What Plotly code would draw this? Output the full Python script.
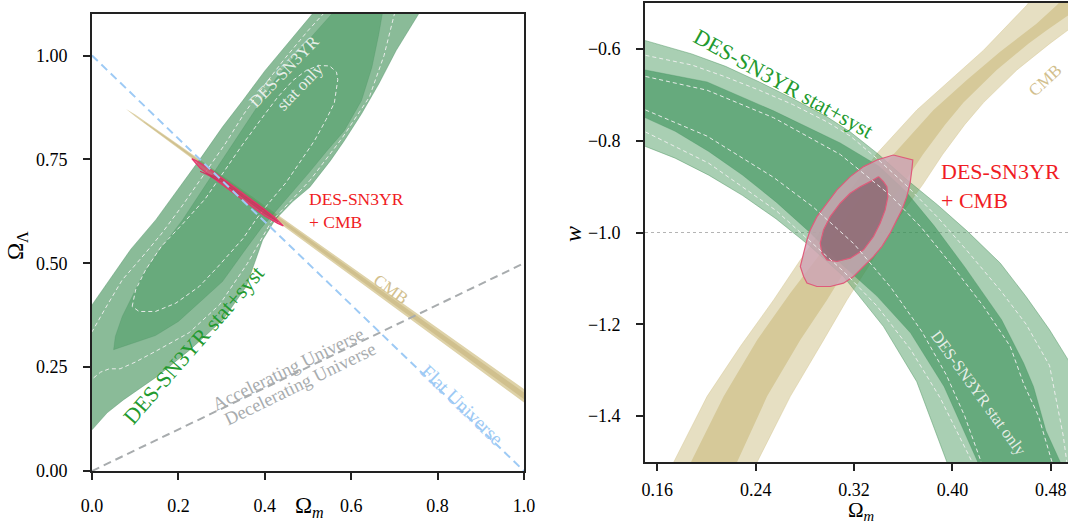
import plotly.graph_objects as go

FONT = "Liberation Serif"

# ================= LEFT PANEL: Omega_m vs Omega_Lambda =================
# CMB band (outer and inner core)
LCMB_up_x = [0.0787, 0.1, 0.2, 0.4, 0.6, 0.8, 1.0, 1.03]
LCMB_up_y = [0.8715, 0.858, 0.7861, 0.6392, 0.4918, 0.3444, 0.197, 0.175]
LCMB_lo_x = [1.03, 1.0, 0.8, 0.6, 0.4, 0.2, 0.1]
LCMB_lo_y = [0.142, 0.165, 0.3174, 0.4698, 0.6222, 0.7751, 0.853]
LCMBi_up_x = [0.12, 0.2, 0.4, 0.6, 0.8, 1.0, 1.03]
LCMBi_up_y = [0.8415, 0.7834, 0.635, 0.4863, 0.3377, 0.189, 0.1668]
LCMBi_lo_x = [1.03, 1.0, 0.8, 0.6, 0.4, 0.2, 0.12]
LCMBi_lo_y = [0.1502, 0.173, 0.3241, 0.4753, 0.6264, 0.7778, 0.8395]

# DES-SN3YR stat+syst 2 sigma (light green)
LG2_lo_x = [-0.02, 0, 0.035, 0.0725, 0.15, 0.227, 0.303, 0.357, 0.395, 0.424, 0.464, 0.504, 0.552, 0.584, 0.624, 0.664, 0.704, 0.736, 0.756, 0.775]
LG2_lo_y = [0.08, 0.099, 0.14, 0.171, 0.227, 0.292, 0.364, 0.444, 0.556, 0.605, 0.648, 0.683, 0.747, 0.795, 0.86, 0.932, 1.012, 1.068, 1.1, 1.13]
LG2_up_x = [0.53, 0.51, 0.49, 0.45, 0.40, 0.35, 0.302, 0.255, 0.202, 0.148, 0.09, 0.064, 0.03, 0, -0.02]
LG2_up_y = [1.13, 1.1, 1.075, 1.025, 0.963, 0.893, 0.828, 0.758, 0.683, 0.605, 0.534, 0.495, 0.445, 0.398, 0.37]

# DES-SN3YR stat+syst 1 sigma (dark green)
LG1_a_x = [0.05, 0.054, 0.07, 0.093, 0.116, 0.152, 0.21, 0.264, 0.318, 0.372, 0.426, 0.488, 0.549, 0.555, 0.565]
LG1_a_y = [0.292, 0.324, 0.372, 0.42, 0.468, 0.525, 0.605, 0.69, 0.775, 0.86, 0.945, 1.022, 1.093, 1.1, 1.13]
LG1_b_x = [0.68, 0.672, 0.664, 0.648, 0.624, 0.584, 0.544, 0.504, 0.464, 0.424, 0.392, 0.36, 0.333, 0.302, 0.248, 0.2, 0.147, 0.1, 0.07]
LG1_b_y = [1.13, 1.1, 1.052, 0.972, 0.892, 0.819, 0.771, 0.72, 0.672, 0.625, 0.585, 0.54, 0.5, 0.456, 0.405, 0.36, 0.326, 0.31, 0.298]

# stat-only contours (white dashed)
LD2a_x = [-0.01, 0, 0.02, 0.04, 0.065, 0.1, 0.147, 0.225, 0.295, 0.36, 0.415, 0.505, 0.578, 0.642, 0.676, 0.70, 0.71]
LD2a_y = [0.215, 0.221, 0.238, 0.246, 0.246, 0.262, 0.288, 0.333, 0.40, 0.50, 0.60, 0.70, 0.80, 0.90, 1.0, 1.1, 1.13]
LD2b_x = [-0.01, 0, 0.03, 0.07, 0.12, 0.16, 0.21, 0.26, 0.31, 0.352, 0.40, 0.448, 0.50, 0.535, 0.56]
LD2b_y = [0.32, 0.335, 0.39, 0.46, 0.52, 0.57, 0.64, 0.715, 0.79, 0.86, 0.93, 0.995, 1.06, 1.1, 1.13]
LD1_x = [0.093, 0.101, 0.124, 0.16, 0.21, 0.262, 0.305, 0.348, 0.39, 0.43, 0.465, 0.497, 0.526, 0.55, 0.566, 0.569, 0.561, 0.542, 0.515, 0.485, 0.449, 0.41, 0.38, 0.35, 0.32, 0.29, 0.248, 0.194, 0.147, 0.109, 0.093]
LD1_y = [0.396, 0.436, 0.484, 0.54, 0.595, 0.655, 0.72, 0.785, 0.845, 0.9, 0.94, 0.965, 0.976, 0.975, 0.96, 0.942, 0.886, 0.846, 0.795, 0.75, 0.694, 0.646, 0.606, 0.56, 0.525, 0.49, 0.444, 0.404, 0.384, 0.384, 0.396]

# DES-SN3YR + CMB (red)
LR2_x = [0.231, 0.245, 0.27, 0.30, 0.34, 0.38, 0.42, 0.443, 0.43, 0.40, 0.36, 0.32, 0.28, 0.25, 0.231]
LR2_y = [0.752, 0.745, 0.729, 0.707, 0.676, 0.645, 0.613, 0.590, 0.596, 0.614, 0.644, 0.675, 0.706, 0.729, 0.752]
LR1_x = [0.25, 0.30, 0.35, 0.40, 0.43, 0.40, 0.35, 0.30, 0.25]
LR1_y = [0.7212, 0.7033, 0.664, 0.627, 0.600, 0.619, 0.658, 0.6953, 0.7212]

# reference lines
LFlat_x = [0, 1]
LFlat_y = [1, 0]
LAcc_x = [0, 1]
LAcc_y = [0, 0.5]

# ================= RIGHT PANEL: Omega_m vs w =================
RCMB_ol_x = [0.155, 0.1734, 0.2005, 0.2276, 0.2546, 0.2763, 0.30, 0.3386, 0.3711, 0.398, 0.4253, 0.4604, 0.47]
RCMB_ol_y = [-1.6, -1.50, -1.357, -1.248, -1.147, -1.06, -0.972, -0.828, -0.733, -0.668, -0.603, -0.505, -0.47]
RCMB_or_x = [0.54, 0.52, 0.494, 0.4794, 0.4524, 0.4253, 0.41, 0.392, 0.376, 0.357, 0.335, 0.3142, 0.2953, 0.2682, 0.2412, 0.225]
RCMB_or_y = [-0.47, -0.51, -0.559, -0.588, -0.646, -0.717, -0.765, -0.83, -0.895, -0.965, -1.06, -1.147, -1.234, -1.357, -1.5, -1.6]
RCMB_il_x = [0.17, 0.1883, 0.214, 0.2412, 0.2682, 0.30, 0.325, 0.352, 0.3846, 0.4117, 0.4388, 0.4686, 0.4848, 0.49]
RCMB_il_y = [-1.6, -1.495, -1.357, -1.234, -1.132, -1.02, -0.925, -0.83, -0.7332, -0.668, -0.606, -0.5446, -0.5047, -0.49]
RCMB_ir_x = [0.523, 0.503, 0.477, 0.462, 0.436, 0.409, 0.394, 0.376, 0.36, 0.34, 0.318, 0.298, 0.2763, 0.2493, 0.2249, 0.21]
RCMB_ir_y = [-0.47, -0.51, -0.559, -0.588, -0.646, -0.717, -0.765, -0.83, -0.895, -0.965, -1.06, -1.147, -1.234, -1.357, -1.5, -1.6]

RG2_up_x = [0.14, 0.1504, 0.188, 0.2155, 0.243, 0.270, 0.298, 0.317, 0.340, 0.362, 0.388, 0.412, 0.439, 0.460, 0.479, 0.494, 0.51, 0.53]
RG2_up_y = [-0.575, -0.582, -0.611, -0.638, -0.672, -0.708, -0.748, -0.781, -0.830, -0.883, -0.940, -0.997, -1.067, -1.140, -1.212, -1.277, -1.36, -1.6]
RG2_lo_x = [0.405, 0.3955, 0.371, 0.344, 0.3112, 0.2839, 0.2565, 0.2292, 0.2018, 0.1745, 0.1504, 0.14]
RG2_lo_y = [-1.6, -1.5, -1.325, -1.205, -1.095, -1.029, -0.970, -0.919, -0.875, -0.838, -0.8125, -0.805]
RG1_up_x = [0.14, 0.1504, 0.2005, 0.2546, 0.3088, 0.34, 0.362, 0.385, 0.41, 0.44, 0.458, 0.466, 0.476, 0.4877, 0.49]
RG1_up_y = [-0.64, -0.646, -0.672, -0.735, -0.805, -0.855, -0.91, -0.985, -1.075, -1.19, -1.285, -1.336, -1.4315, -1.5, -1.6]
RG1_lo_x = [0.425, 0.4206, 0.3933, 0.366, 0.3386, 0.3112, 0.2839, 0.2565, 0.2292, 0.2018, 0.1745, 0.1504, 0.14]
RG1_lo_y = [-1.6, -1.5, -1.336, -1.219, -1.1385, -1.0725, -0.9993, -0.9333, -0.8747, -0.8234, -0.7795, -0.7502, -0.743]

RDA_x = [0.1504, 0.188, 0.2155, 0.243, 0.27, 0.298, 0.317, 0.34, 0.362, 0.388, 0.412, 0.439, 0.46, 0.479, 0.4902, 0.493]
RDA_y = [-0.614, -0.635, -0.661, -0.69, -0.721, -0.759, -0.79, -0.842, -0.896, -0.967, -1.04, -1.126, -1.2, -1.29, -1.444, -1.5]
RDB_x = [0.1504, 0.2005, 0.2546, 0.3088, 0.35, 0.375, 0.3983, 0.4253, 0.447, 0.458, 0.47, 0.481]
RDB_y = [-0.66, -0.69, -0.75, -0.83, -0.92, -0.99, -1.067, -1.161, -1.248, -1.33, -1.40, -1.5]
RDC_x = [0.1504, 0.2005, 0.2546, 0.287, 0.32, 0.35, 0.375, 0.395, 0.41, 0.4234]
RDC_y = [-0.733, -0.79, -0.88, -0.945, -1.025, -1.12, -1.215, -1.31, -1.40, -1.5]
RDD_x = [0.1504, 0.2018, 0.2565, 0.3112, 0.3386, 0.366, 0.39, 0.405, 0.416]
RDD_y = [-0.781, -0.849, -0.952, -1.084, -1.16, -1.255, -1.36, -1.44, -1.5]

RR2_x = [0.3520, 0.3629, 0.3678, 0.3670, 0.3656, 0.3629, 0.3589, 0.3548, 0.3494, 0.3426, 0.3358, 0.3277, 0.3196, 0.3114, 0.3006, 0.2898, 0.2817, 0.2790, 0.2763, 0.2790, 0.2817, 0.2844, 0.2898, 0.2980, 0.3061, 0.3169, 0.3277, 0.3386, 0.3467, 0.3520]
RR2_y = [-0.8311, -0.8383, -0.8420, -0.8637, -0.8927, -0.9218, -0.9508, -0.9725, -1.0015, -1.0306, -1.0524, -1.0741, -1.0959, -1.1103, -1.1177, -1.1177, -1.1103, -1.0959, -1.0741, -1.045, -1.016, -0.9943, -0.9654, -0.9362, -0.9073, -0.8783, -0.8565, -0.8420, -0.8348, -0.8311]
RR1_x = [0.3399, 0.3439, 0.3467, 0.3475, 0.3453, 0.3412, 0.3358, 0.3277, 0.3169, 0.3061, 0.2980, 0.2939, 0.2925, 0.2952, 0.3006, 0.3088, 0.3169, 0.3250, 0.3331, 0.3399]
RR1_y = [-0.8783, -0.8892, -0.9001, -0.9218, -0.9508, -0.9797, -1.0088, -1.0378, -1.0559, -1.0632, -1.0596, -1.045, -1.0232, -0.9943, -0.9654, -0.9362, -0.9144, -0.9001, -0.8892, -0.8783]

RW_x = [0.15, 0.5]
RW_y = [-1.0, -1.0]

# tick labels
L_xticks = [0.0, 0.2, 0.4, 0.6, 0.8, 1.0]
L_xtext = ["0.0", "0.2", "0.4", "0.6", "0.8", "1.0"]
L_yticks = [0.0, 0.25, 0.5, 0.75, 1.0]
L_ytext = ["0.00", "0.25", "0.50", "0.75", "1.00"]
R_xticks = [0.16, 0.24, 0.32, 0.40, 0.48]
R_xtext = ["0.16", "0.24", "0.32", "0.40", "0.48"]
R_yticks = [-1.4, -1.2, -1.0, -0.8, -0.6]
R_ytext = ["\u22121.4", "\u22121.2", "\u22121.0", "\u22120.8", "\u22120.6"]

fig = go.Figure()


def band(xa, ya, xb, yb, fillcolor, lc="rgba(0,0,0,0)", lw=0, ax="x", ay="y"):
    xs = list(xa) + list(xb) + [xa[0]]
    ys = list(ya) + list(yb) + [ya[0]]
    fig.add_trace(go.Scatter(x=xs, y=ys, mode="lines", fill="toself", fillcolor=fillcolor,
                             line=dict(color=lc, width=lw), xaxis=ax, yaxis=ay,
                             hoverinfo="skip", showlegend=False))


def line(xs, ys, color, width, dash, ax="x", ay="y"):
    fig.add_trace(go.Scatter(x=xs, y=ys, mode="lines", line=dict(color=color, width=width, dash=dash),
                             xaxis=ax, yaxis=ay, hoverinfo="skip", showlegend=False))


DASHW = "rgba(238,238,238,0.95)"

# ---- left panel traces ----
band(LCMB_up_x, LCMB_up_y, LCMB_lo_x, LCMB_lo_y, "rgb(222,210,168)")
band(LCMBi_up_x, LCMBi_up_y, LCMBi_lo_x, LCMBi_lo_y, "rgb(208,192,142)")
band(LG2_lo_x, LG2_lo_y, LG2_up_x, LG2_up_y, "rgba(60,142,83,0.6)", "rgba(70,140,95,0.5)", 0.8)
band(LG1_a_x, LG1_a_y, LG1_b_x, LG1_b_y, "rgba(70,153,96,0.5)", "rgba(70,140,95,0.4)", 0.6)
line(LD2a_x, LD2a_y, DASHW, 1, "4px,3px")
line(LD2b_x, LD2b_y, DASHW, 1, "4px,3px")
line(LD1_x, LD1_y, DASHW, 1, "4px,3px")
band(LR2_x, LR2_y, [], [], "rgba(222,70,110,0.75)", "#e8336b", 1.2)
band(LR1_x, LR1_y, [], [], "rgba(200,50,90,0.6)", "rgba(210,40,90,0.8)", 0.8)
line(LFlat_x, LFlat_y, "#9dcaf5", 2, "8px,5px")
line(LAcc_x, LAcc_y, "#a8acae", 2, "8px,5px")

# ---- right panel traces ----
band(RCMB_ol_x, RCMB_ol_y, RCMB_or_x, RCMB_or_y, "rgb(230,223,194)", "rgba(215,200,150,0.6)", 0.8, "x2", "y2")
band(RCMB_il_x, RCMB_il_y, RCMB_ir_x, RCMB_ir_y, "rgb(214,201,153)", "rgba(0,0,0,0)", 0, "x2", "y2")
line(RW_x, RW_y, "#b4b4b4", 1.2, "dot", "x2", "y2")
band(RG2_up_x, RG2_up_y, RG2_lo_x, RG2_lo_y, "rgba(84,160,104,0.5)", "rgba(80,150,100,0.6)", 0.8, "x2", "y2")
band(RG1_up_x, RG1_up_y, RG1_lo_x, RG1_lo_y, "rgba(48,140,80,0.55)", "rgba(60,140,90,0.5)", 0.6, "x2", "y2")
band(RR2_x, RR2_y, [], [], "rgba(205,165,180,0.82)", "#df5b7a", 1.2, "x2", "y2")
band(RR1_x, RR1_y, [], [], "rgba(139,101,112,0.8)", "#df5b7a", 1.2, "x2", "y2")
for xs, ys in [(RDA_x, RDA_y), (RDB_x, RDB_y), (RDC_x, RDC_y), (RDD_x, RDD_y)]:
    line(xs, ys, DASHW, 1, "4px,3px", "x2", "y2")


def ann(text, x, y, size, color, angle=0, ax="x", ay="y", xanchor="center", yanchor="middle", align="center"):
    return dict(text=text, x=x, y=y, xref=ax, yref=ay, showarrow=False, textangle=angle,
                font=dict(family=FONT, size=size, color=color), xanchor=xanchor, yanchor=yanchor, align=align)


annotations = [
    ann("DES-SN3YR<br>stat only", 0.462, 0.943, 17, "rgba(238,242,238,0.95)", -46),
    ann("DES-SN3YR stat+syst", 0.236, 0.304, 22, "#239a2f", -49),
    ann("DES-SN3YR<br>+ CMB", 0.498, 0.684, 17.5, "#f01c24", 0, xanchor="left", yanchor="top", align="left"),
    ann("CMB", 0.692, 0.437, 17, "#d2c08e", 36),
    ann("Accelerating Universe", 0.4546, 0.2465, 18.5, "#a8acae", -26),
    ann("Decelerating Universe", 0.482, 0.210, 18.5, "#a8acae", -26),
    ann("Flat Universe", 0.8576, 0.1573, 19.5, "#9dcaf5", 44),
    ann("DES-SN3YR stat+syst", 0.2626, -0.675, 22, "#239a2f", 29, "x2", "y2"),
    ann("CMB", 0.4752, -0.668, 17, "#d2c08e", -43, "x2", "y2"),
    ann("DES-SN3YR<br>+ CMB", 0.389, -0.836, 22, "#f01c24", 0, "x2", "y2", xanchor="left", yanchor="top", align="left"),
    ann("DES-SN3YR stat only", 0.4218, -1.3497, 16.5, "rgba(238,242,238,0.95)", 54, "x2", "y2"),
    # axis titles (positioned in figure pixels)
    dict(text="\u03a9<sub>\u039b</sub>", x=17 / 1068, y=(525 - 246) / 525, xref="paper", yref="paper",
         xanchor="center", yanchor="middle",
         showarrow=False, textangle=-90, font=dict(family=FONT, size=23, color="black")),
    dict(text="\u03a9<sub><i>m</i></sub>", x=309 / 1068, y=(525 - 507) / 525, xref="paper", yref="paper",
         xanchor="center", yanchor="middle",
         showarrow=False, font=dict(family=FONT, size=23, color="black")),
    dict(text="\u03a9<sub><i>m</i></sub>", x=861 / 1068, y=(525 - 511) / 525, xref="paper", yref="paper",
         xanchor="center", yanchor="middle",
         showarrow=False, font=dict(family=FONT, size=21, color="black")),
    dict(text="<i>w</i>", x=573 / 1068, y=(525 - 234) / 525, xref="paper", yref="paper",
         xanchor="center", yanchor="middle",
         showarrow=False, textangle=-90, font=dict(family=FONT, size=24, color="black")),
]

axis_common = dict(showgrid=False, zeroline=False, showline=True, linecolor="#222", linewidth=1.6,
                   ticks="outside", ticklen=7, tickwidth=1.5, tickcolor="#222",
                   tickfont=dict(family=FONT, size=18, color="black"), automargin=False, layer="above traces")

fig.update_layout(
    width=1068, height=525,
    margin=dict(l=0, r=0, t=0, b=0),
    paper_bgcolor="white", plot_bgcolor="white",
    showlegend=False, hovermode=False,
    template="none",
    xaxis=dict(domain=[92 / 1068, 524 / 1068], range=[0, 1], tickvals=L_xticks, ticktext=L_xtext,
               mirror=True, anchor="y", ticklabelstandoff=11, **axis_common),
    yaxis=dict(domain=[54 / 525, 511 / 525], range=[0, 1.1], tickvals=L_yticks, ticktext=L_ytext,
               mirror=True, anchor="x", ticklabelstandoff=12, **axis_common),
    xaxis2=dict(domain=[645 / 1068, 1.0], range=[0.15, 0.494], tickvals=R_xticks, ticktext=R_xtext,
                mirror=True, anchor="y2", ticklabelstandoff=4, **axis_common),
    yaxis2=dict(domain=[63 / 525, 522 / 525], range=[-1.5, -0.5], tickvals=R_yticks, ticktext=R_ytext,
                mirror=False, anchor="x2", ticklabelstandoff=12, **axis_common),
    annotations=annotations,
)

fig.write_html("out.html", config={"displayModeBar": False},
               post_script="document.body.style.margin='0px';document.body.style.overflow='hidden';")
